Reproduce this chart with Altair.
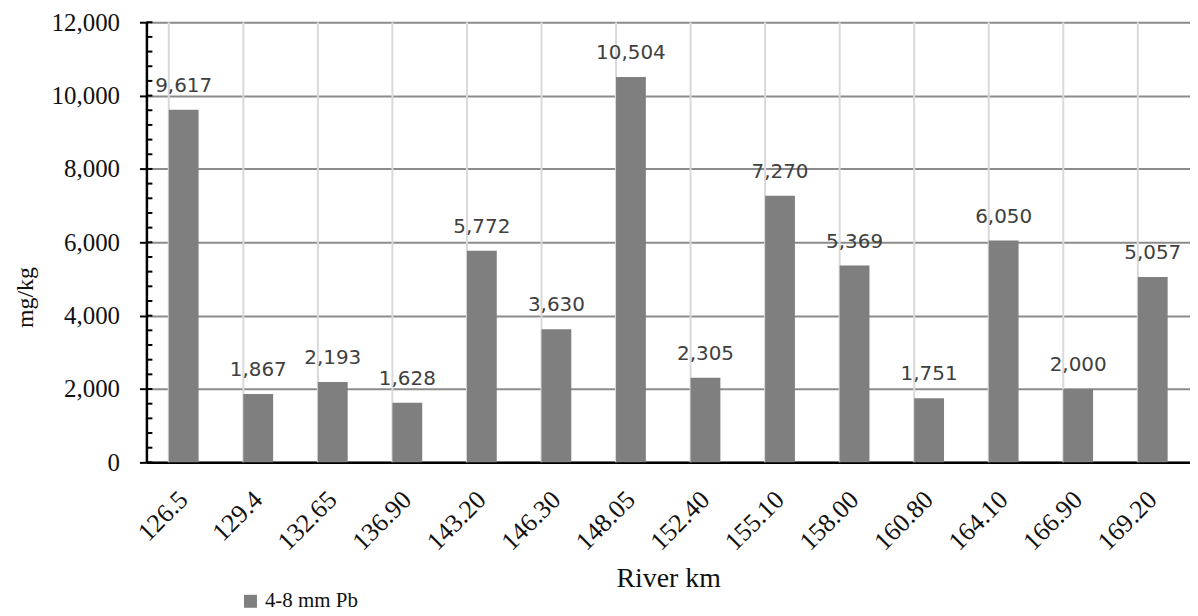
import altair as alt
import pandas as pd

km = ["126.5", "129.4", "132.65", "136.90", "143.20", "146.30", "148.05",
      "152.40", "155.10", "158.00", "160.80", "164.10", "166.90", "169.20"]
pb = [9617, 1867, 2193, 1628, 5772, 3630, 10504, 2305, 7270, 5369, 1751, 6050, 2000, 5057]
series_name = "4-8 mm Pb"
y_major = [0, 2000, 4000, 6000, 8000, 10000, 12000]
y_minor = list(range(0, 12001, 400))

df = pd.DataFrame({"km": km, "pb": pb, "series": [series_name] * len(km)})
minor_df = pd.DataFrame({"pb": y_minor})

W, H = 1048, 442
serif = "Liberation Serif"

xscale = alt.Scale(domain=km, paddingInner=0.6, paddingOuter=0.3)
yscale = alt.Scale(domain=[0, 12000], nice=False)

xaxis = alt.Axis(title="River km", labelAngle=-45, labelAlign="right",
                 labelBaseline="middle", labelPadding=33, ticks=False,
                 labelFont=serif, labelFontSize=26, labelColor="#111111",
                 titleFont=serif, titleFontSize=28, titleFontWeight="normal",
                 titleColor="#111111", titlePadding=10,
                 domainColor="#000000", domainWidth=2.5, grid=False)
yaxis = alt.Axis(title="mg/kg", values=y_major, format=",d",
                 labelFont=serif, labelFontSize=25, labelColor="#111111",
                 labelPadding=20, tickSize=7, tickColor="#000000", tickWidth=2,
                 domainColor="#000000", domainWidth=2.5,
                 grid=True, gridColor="#8c8c8c", gridWidth=2,
                 titleFont=serif, titleFontSize=24, titleFontWeight="normal",
                 titleColor="#111111", titleX=-121, titleY=276,
                 titleBaseline="middle")

vgrid = alt.Chart(df).mark_rule(color="#d9d9d9", strokeWidth=2).encode(
    x=alt.X("km:N", bandPosition=0, scale=xscale, sort=km, axis=xaxis),
)

bars = alt.Chart(df).mark_bar(color="#7f7f7f").encode(
    x=alt.X("km:N", sort=km, scale=xscale, axis=xaxis),
    y=alt.Y("pb:Q", scale=yscale, axis=yaxis),
    fill=alt.Fill("series:N", scale=alt.Scale(range=["#7f7f7f"]),
                  legend=alt.Legend(title=None, orient="none", legendX=94, legendY=571,
                                    symbolType="square", symbolSize=170,
                                    symbolStrokeWidth=0,
                                    labelFont=serif, labelFontSize=21, labelColor="#111111",
                                    labelOffset=4)),
)

labels = alt.Chart(df).mark_text(font="DejaVu Sans", fontSize=20, color="#404040",
                                 baseline="alphabetic", dy=-18).encode(
    x=alt.X("km:N", sort=km, scale=xscale, axis=xaxis),
    y=alt.Y("pb:Q", scale=yscale, axis=yaxis),
    text=alt.Text("pb:Q", format=","),
)

minor = alt.Chart(minor_df).mark_rule(color="#000000", strokeWidth=2).encode(
    x=alt.value(0), x2=alt.value(6),
    y=alt.Y("pb:Q", scale=yscale, axis=yaxis),
)

chart = alt.layer(vgrid, bars, labels, minor).properties(
    width=W, height=H,
    autosize=alt.AutoSizeParams(type="none"),
    padding={"left": 139, "top": 13, "right": 0, "bottom": 155},
).configure_view(stroke=None).configure(background="white")

chart.save("out.html", embed_options={"renderer": "svg", "actions": False})
